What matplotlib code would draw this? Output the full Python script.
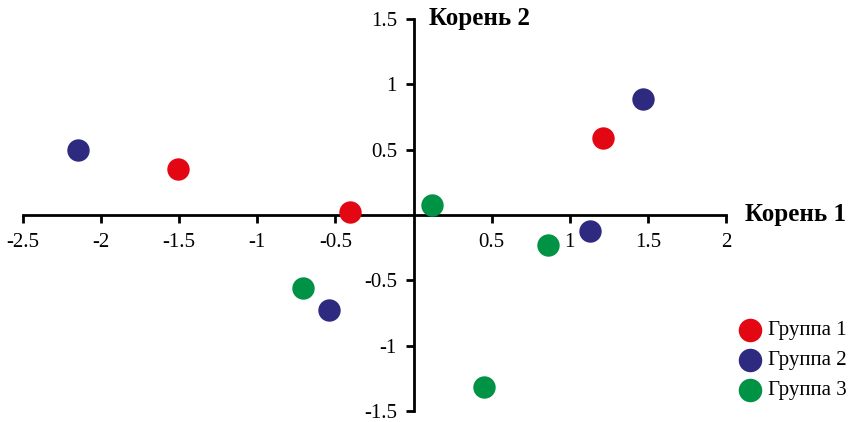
import matplotlib.pyplot as plt

# canonical root scores per group
g1_x = [-1.51, -0.41, 1.21]
g1_y = [0.35, 0.02, 0.59]
g2_x = [-2.15, -0.54, 1.13, 1.47]
g2_y = [0.50, -0.73, -0.12, 0.89]
g3_x = [-0.71, 0.12, 0.45, 0.86]
g3_y = [-0.56, 0.08, -1.32, -0.23]
groups = ["Группа 1", "Группа 2", "Группа 3"]
x_ticks = [-2.5, -2, -1.5, -1, -0.5, 0.5, 1, 1.5, 2]
y_ticks = [-1.5, -1, -0.5, 0.5, 1, 1.5]

plt.rcParams['font.family'] = ['Liberation Serif', 'DejaVu Serif']

fig = plt.figure(figsize=(8.53, 4.22), dpi=100)
ax = fig.add_axes([23/853, 1 - 411/422, 703/853, 392/422])

ax.scatter(g1_x, g1_y, s=260, color='#E30613', label=groups[0], zorder=3, linewidths=0)
ax.scatter(g2_x, g2_y, s=260, color='#2E2A80', label=groups[1], zorder=3, linewidths=0)
ax.scatter(g3_x, g3_y, s=260, color='#009245', label=groups[2], zorder=3, linewidths=0)

ax.set_xlim(-2.5, 2)
ax.set_ylim(-1.5, 1.5)
ax.spines['left'].set_position(('data', 0))
ax.spines['bottom'].set_position(('data', 0))
ax.spines['right'].set_visible(False)
ax.spines['top'].set_visible(False)
ax.spines['left'].set_linewidth(2)
ax.spines['bottom'].set_linewidth(2)

ax.set_xticks(x_ticks)
ax.set_xticklabels([f"{t:g}" for t in x_ticks])
ax.set_yticks(y_ticks)
ax.set_yticklabels([f"{t:g}" for t in y_ticks])
ax.tick_params(axis='x', direction='out', length=6, width=2, labelsize=15, pad=7)
ax.tick_params(axis='y', direction='out', length=6, width=2, labelsize=15, pad=6)
ax.patch.set_visible(False)

ax.text(2.12, 0, "Корень 1", fontsize=18, fontweight='bold', va='center', ha='left', clip_on=False)
ax.text(0.1, 1.5, "Корень 2", fontsize=18, fontweight='bold', va='center', ha='left', clip_on=False)

ax.legend(loc='lower left', bbox_to_anchor=(729/853, 0.052), bbox_transform=fig.transFigure,
          frameon=False, fontsize=15, handletextpad=-0.15, labelspacing=0.5, markerscale=1.05,
          borderaxespad=0, borderpad=0)

fig.savefig("out.png", dpi=100)
